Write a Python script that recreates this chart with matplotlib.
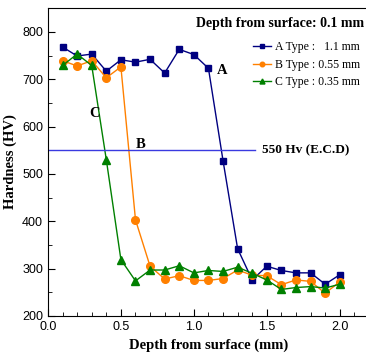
import matplotlib
matplotlib.use('Agg')
import matplotlib.pyplot as plt
from matplotlib.ticker import MultipleLocator

depth = [0.1, 0.2, 0.3, 0.4, 0.5, 0.6, 0.7, 0.8, 0.9, 1.0,
         1.1, 1.2, 1.3, 1.4, 1.5, 1.6, 1.7, 1.8, 1.9, 2.0]
a_type = [768, 749, 753, 717, 741, 736, 742, 713, 763, 752,
          723, 528, 342, 276, 305, 296, 291, 291, 267, 287]
b_type = [739, 728, 739, 703, 726, 403, 305, 278, 285, 275,
          275, 279, 297, 286, 285, 266, 276, 273, 248, 272]
c_type = [729, 753, 729, 530, 319, 274, 297, 297, 306, 291,
          296, 294, 303, 290, 276, 256, 260, 262, 259, 267]
ecd = 550

serif = 'Liberation Serif'
sans = 'Liberation Sans'

fig = plt.figure(figsize=(3.66, 3.55), dpi=100)
ax = fig.add_axes([0.131, 0.110, 0.877, 0.867])

ax.plot(depth, a_type, '-s', color='#000080', lw=1, ms=5, label='A Type :   1.1 mm')
ax.plot(depth, b_type, '-o', color='#ff8000', lw=1, ms=5.5, label='B Type : 0.55 mm')
ax.plot(depth, c_type, '-^', color='#008000', lw=1, ms=6, label='C Type : 0.35 mm')
ax.plot([0, 1.42], [ecd, ecd], color='#3a3ae0', lw=1)

ax.text(1.47, ecd, '550 Hv (E.C.D)', fontfamily=serif, fontweight='bold',
        fontsize=9.5, va='center')
ax.text(1.155, 718, 'A', fontfamily=serif, fontweight='bold', fontsize=10.5, va='center')
ax.text(0.605, 563, 'B', fontfamily=serif, fontweight='bold', fontsize=10.5, va='center')
ax.text(0.285, 627, 'C', fontfamily=serif, fontweight='bold', fontsize=10.5, va='center')
ax.text(0.985, 0.949, 'Depth from surface: 0.1 mm', transform=ax.transAxes,
        fontfamily=serif, fontweight='bold', fontsize=10, ha='right', va='center')

leg = ax.legend(loc='upper right', bbox_to_anchor=(0.995, 0.915), frameon=False,
                prop={'family': serif, 'size': 8.5}, handlelength=1.5,
                handletextpad=0.35, labelspacing=0.45, markerscale=0.6,
                borderaxespad=0.2)

ax.set_xlim(0, 2.2)
ax.set_ylim(200, 850)
ax.spines['right'].set_visible(False)
ax.xaxis.set_major_locator(MultipleLocator(0.5))
ax.xaxis.set_minor_locator(MultipleLocator(0.1))
ax.yaxis.set_major_locator(MultipleLocator(100))
ax.yaxis.set_minor_locator(MultipleLocator(50))
ax.set_xticks([0, 0.5, 1.0, 1.5, 2.0])
ax.tick_params(which='both', direction='in', labelsize=9)
ax.tick_params(which='major', length=5)
ax.tick_params(which='minor', length=3)
for lab in ax.get_xticklabels() + ax.get_yticklabels():
    lab.set_fontfamily(sans)

ax.set_xlabel('Depth from surface (mm)', fontfamily=serif, fontweight='bold', fontsize=10.5)
ax.set_ylabel('Hardness (HV)', fontfamily=serif, fontweight='bold', fontsize=10.5)

fig.savefig('out.png', dpi=100)
